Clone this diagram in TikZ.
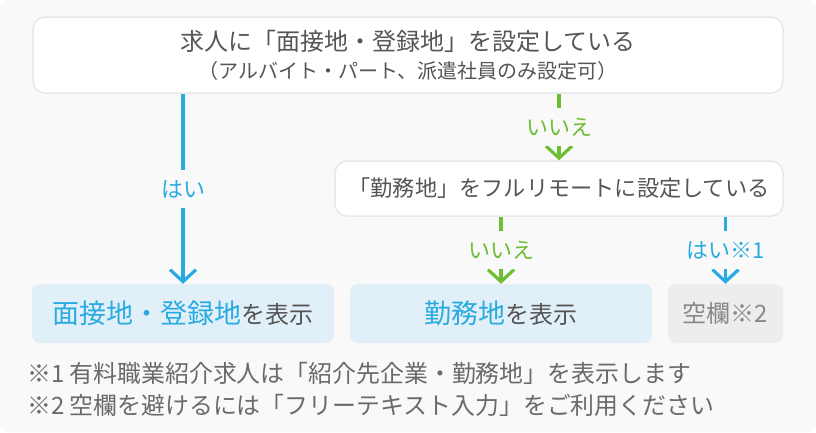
\documentclass[tikz,border=0pt]{standalone}
\usepackage{fontspec}
\setmainfont{Noto Sans CJK JP}
\usetikzlibrary{arrows.meta}
\definecolor{bgc}{HTML}{F9F9F9}
\definecolor{boxline}{HTML}{E8E8E8}
\definecolor{txt}{HTML}{555555}
\definecolor{notetxt}{HTML}{6A6A6A}
\definecolor{cblue}{HTML}{29ABE2}
\definecolor{cgreen}{HTML}{6DBE35}
\definecolor{lblue}{HTML}{E1EFF9}
\definecolor{lgrey}{HTML}{EDEDED}
\definecolor{greytxt}{HTML}{888888}
\newcommand\setfs[1]{\fontsize{#1pt}{#1pt}\selectfont}
\begin{document}
\begin{tikzpicture}[x=1pt,y=-1pt,
  qbox/.style={draw=boxline, line width=1.5pt, fill=white, rounded corners=12pt, inner sep=0pt, text=txt},
  abox/.style={fill=lblue, rounded corners=8pt, inner sep=0pt, minimum width=302pt, minimum height=59pt, text=txt},
  cbox/.style={fill=lgrey, rounded corners=8pt, inner sep=0pt, minimum width=115pt, minimum height=59pt, text=greytxt},
  yesline/.style={draw=cblue, line width=3.2pt, -{Straight Barb[length=12pt,width=26pt]}},
  noline/.style={draw=cgreen, line width=3.2pt, -{Straight Barb[length=12pt,width=26pt]}},
  lbl/.style={fill=bgc, inner xsep=3pt, inner ysep=0pt, minimum height=38pt, font=\setfs{22}, text height=19.4pt, text depth=2.6pt},
  note/.style={inner sep=0pt, text=notetxt, font=\setfs{23.9}, text height=21pt, text depth=2.9pt}
]
\fill[white] (0,0) rectangle (816,432);
\fill[bgc, rounded corners=8pt] (0,0) rectangle (816,432);
\useasboundingbox (0,0) rectangle (816,432);

\node[qbox, minimum width=750pt, minimum height=76pt, align=center] (q1) at (408,55)
  {{\setfs{24}求人に「面接地・登録地」を設定している}\\[8pt]{\setfs{20}（アルバイト・パート、派遣社員のみ設定可）}};
\node[qbox, minimum width=448pt, minimum height=55pt, font=\setfs{22.2}, text height=19.5pt, text depth=2.7pt] (q2) at (559,188.5)
  {「勤務地」をフルリモートに設定している};

\node[abox, text height=23.8pt, text depth=3.2pt] (a) at (183,313.5)
  {{\setfs{27}\color{cblue}面接地・登録地}{\setfs{24}を表示}};
\node[abox, text height=23.8pt, text depth=3.2pt] (b) at (501,313.5)
  {{\setfs{27}\color{cblue}勤務地}{\setfs{24}を表示}};
\node[cbox, font=\setfs{24}, text height=21.1pt, text depth=2.9pt] (c) at (725.5,313.5)
  {空欄※2};

\draw[yesline] (q1.south -| a.north) -- node[lbl, text=cblue] {はい} (a.north);
\draw[noline] (q1.south -| q2.north) -- node[lbl, text=cgreen] {いいえ} (q2.north);
\draw[noline] (q2.south -| b.north) -- node[lbl, text=cgreen] {いいえ} (b.north);
\draw[yesline] (q2.south -| c.north) -- node[lbl, text=cblue] {はい※1} (c.north);

\node[note, anchor=west] (n1) at (27,373) {※1 有料職業紹介求人は「紹介先企業・勤務地」を表示します};
\node[note, anchor=west] (n2) at (27,405) {※2 空欄を避けるには「フリーテキスト入力」をご利用ください};
\end{tikzpicture}
\end{document}
